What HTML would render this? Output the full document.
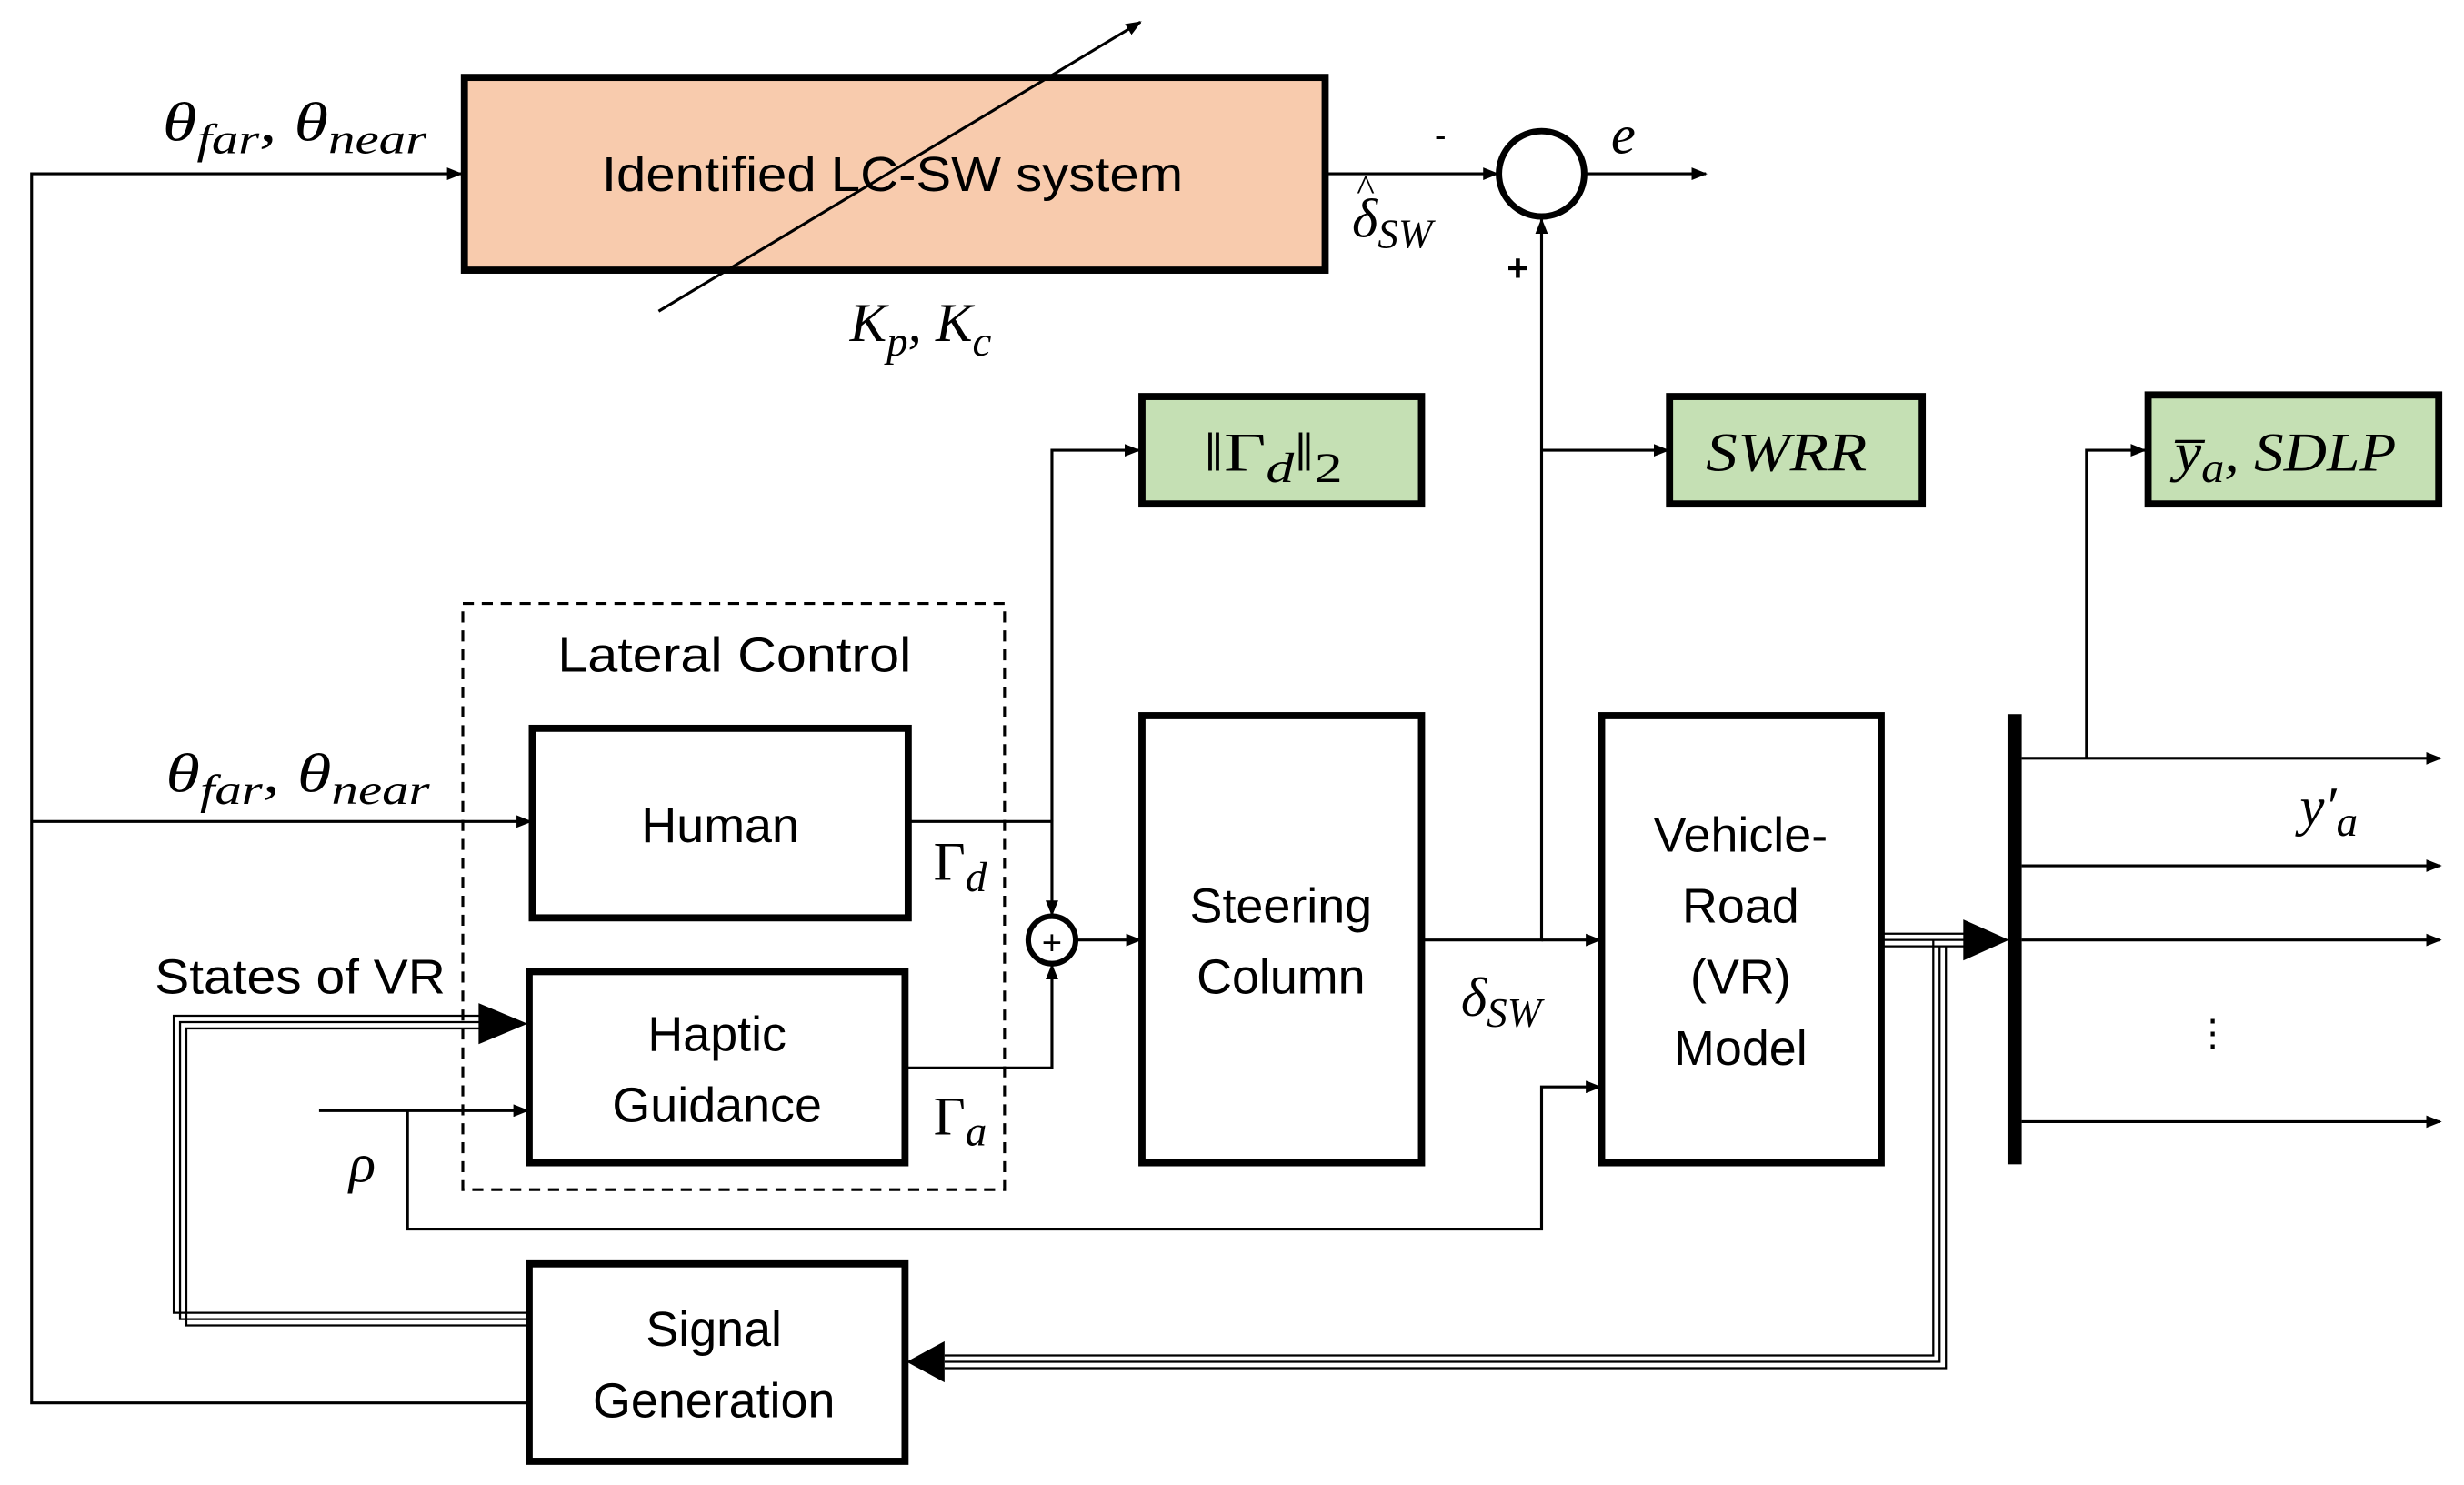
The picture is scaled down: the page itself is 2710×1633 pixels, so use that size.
<!DOCTYPE html>
<html><head><meta charset="utf-8"><style>html,body{margin:0;padding:0;background:#fff}svg{display:block}</style></head>
<body>
<svg width="2710" height="1633" viewBox="0 0 1560 940" preserveAspectRatio="none" xmlns="http://www.w3.org/2000/svg">
<defs>
<marker id="a" markerWidth="10" markerHeight="8" refX="9" refY="4" orient="auto" markerUnits="userSpaceOnUse"><path d="M0,0 L10,4 L0,8 z" fill="#000"/></marker>
</defs>
<g font-family="Liberation Sans, sans-serif" font-size="31" fill="#000" text-anchor="middle">
<rect x="294" y="49" width="545" height="122" fill="#f8cbad" stroke="#000" stroke-width="4.5"/>
<rect x="723" y="251" width="177" height="68" fill="#c5e0b4" stroke="#000" stroke-width="4.5"/>
<rect x="1057" y="251" width="160" height="68" fill="#c5e0b4" stroke="#000" stroke-width="4.5"/>
<rect x="1360" y="250" width="184" height="69" fill="#c5e0b4" stroke="#000" stroke-width="4.5"/>
<rect x="293" y="382" width="343" height="371" fill="none" stroke="#000" stroke-width="1.8" stroke-dasharray="7,5"/>
<rect x="337" y="461" width="238" height="120" fill="#fff" stroke="#000" stroke-width="4.5"/>
<rect x="335" y="615" width="238" height="121" fill="#fff" stroke="#000" stroke-width="4.5"/>
<rect x="723" y="453" width="177" height="283" fill="#fff" stroke="#000" stroke-width="4.5"/>
<rect x="1014" y="453" width="177" height="283" fill="#fff" stroke="#000" stroke-width="4.5"/>
<rect x="335" y="800" width="238" height="125" fill="#fff" stroke="#000" stroke-width="4.5"/>
<rect x="1271" y="452" width="9" height="285" fill="#000"/>
<circle cx="976" cy="110" r="27" fill="#fff" stroke="#000" stroke-width="4"/>
<circle cx="666" cy="595" r="15" fill="#fff" stroke="#000" stroke-width="3.5"/>
<text x="666" y="604" font-size="22">+</text>

<g stroke="#000" stroke-width="1.8" fill="none">
<polyline points="334,888 20,888 20,110 292,110" marker-end="url(#a)"/>
<line x1="20" y1="520" x2="336" y2="520" marker-end="url(#a)"/>
<line x1="417" y1="197" x2="722" y2="14" marker-end="url(#a)"/>
<line x1="840" y1="110" x2="948" y2="110" marker-end="url(#a)"/>
<line x1="1003" y1="110" x2="1080" y2="110" marker-end="url(#a)"/>
<polyline points="901,595 976,595 976,139" marker-end="url(#a)"/>
<line x1="976" y1="285" x2="1056" y2="285" marker-end="url(#a)"/>
<polyline points="576,520 666,520 666,579" marker-end="url(#a)"/>
<polyline points="666,520 666,285 721,285" marker-end="url(#a)"/>
<polyline points="574,676 666,676 666,611" marker-end="url(#a)"/>
<line x1="681" y1="595" x2="722" y2="595" marker-end="url(#a)"/>
<line x1="976" y1="595" x2="1013" y2="595" marker-end="url(#a)"/>
<line x1="202" y1="703" x2="334" y2="703" marker-end="url(#a)"/>
<polyline points="258,703 258,778 976,778 976,688 1013,688" marker-end="url(#a)"/>
<polyline points="1321,480 1321,285 1358,285" marker-end="url(#a)"/>
<line x1="1280" y1="480" x2="1545" y2="480" marker-end="url(#a)"/>
<line x1="1280" y1="548" x2="1545" y2="548" marker-end="url(#a)"/>
<line x1="1280" y1="595" x2="1545" y2="595" marker-end="url(#a)"/>
<line x1="1280" y1="710" x2="1545" y2="710" marker-end="url(#a)"/>
</g>
<g fill="none" stroke="#000" stroke-width="1.3">
<polyline points="334,831 110,831 110,643 305,643"/>
<polyline points="334,835 114,835 114,647 305,647"/>
<polyline points="334,839 118,839 118,651 305,651"/>
<polyline points="1192,591 1245,591"/><polyline points="1192,595 1245,595"/><polyline points="1192,599 1245,599"/>
<polyline points="1224,595 1224,858 598,858"/>
<polyline points="1228,599 1228,862 598,862"/>
<polyline points="1232,599 1232,866 598,866"/>
</g>
<path d="M303,635 L334,648 L303,661 z" fill="#000"/>
<path d="M1243,582 L1272,595 L1243,608 z" fill="#000"/>
<path d="M598,849 L574,862 L598,875 z" fill="#000"/>

<text x="565" y="121" textLength="368" lengthAdjust="spacingAndGlyphs">Identified LC-SW system</text>
<text x="465" y="425" textLength="224" lengthAdjust="spacingAndGlyphs">Lateral Control</text>
<text x="456" y="533">Human</text>
<text x="454" y="665">Haptic</text>
<text x="454" y="710">Guidance</text>
<text x="190" y="629" textLength="184" lengthAdjust="spacingAndGlyphs">States of VR</text>
<text x="811" y="584">Steering</text>
<text x="811" y="629">Column</text>
<text x="1102" y="539">Vehicle-</text>
<text x="1102" y="584">Road</text>
<text x="1102" y="629">(VR)</text>
<text x="1102" y="674">Model</text>
<text x="452" y="852">Signal</text>
<text x="452" y="897">Generation</text>
<text x="912" y="93" font-size="22">-</text>
<text x="961" y="178" font-size="24" font-weight="bold">+</text>
<text x="1401" y="662" font-size="24">⋮</text>
</g>
<g font-family="Liberation Serif, serif" font-style="italic" fill="#000" font-size="35">
<text x="103" y="89" textLength="167" lengthAdjust="spacingAndGlyphs">θ<tspan font-size="27" dy="8">far</tspan><tspan dy="-8">, θ</tspan><tspan font-size="27" dy="8">near</tspan></text>
<text x="105" y="501" textLength="167" lengthAdjust="spacingAndGlyphs">θ<tspan font-size="27" dy="8">far</tspan><tspan dy="-8">, θ</tspan><tspan font-size="27" dy="8">near</tspan></text>
<text x="538" y="216">K<tspan font-size="27" dy="9">p</tspan><tspan dy="-9">, K</tspan><tspan font-size="27" dy="9">c</tspan></text>
<text x="856" y="150">δ<tspan font-size="26" dy="7">SW</tspan></text>
<text x="859" y="127" font-style="normal" font-size="24">^</text>
<text x="925" y="643">δ<tspan font-size="26" dy="7">SW</tspan></text>
<text x="1020" y="97">e</text>
<text x="591" y="557" font-style="normal">Γ<tspan font-style="italic" font-size="27" dy="7">d</tspan></text>
<text x="591" y="718" font-style="normal">Γ<tspan font-style="italic" font-size="27" dy="7">a</tspan></text>
<text x="221" y="748">ρ</text>
<text x="1456" y="522">y′<tspan font-size="27" dy="7">a</tspan></text>
<text x="1080" y="298" textLength="102" lengthAdjust="spacingAndGlyphs">SWRR</text>
<text x="1377" y="298" textLength="140" lengthAdjust="spacingAndGlyphs">y̅<tspan font-size="27" dy="7">a</tspan><tspan dy="-7">, SDLP</tspan></text>
<text x="762" y="298" font-style="normal" textLength="88" lengthAdjust="spacingAndGlyphs">‖Γ<tspan font-style="italic" font-size="27" dy="7">d</tspan><tspan dy="-7">‖</tspan><tspan font-size="27" dy="7">2</tspan></text>
</g>
</svg>
</body></html>
